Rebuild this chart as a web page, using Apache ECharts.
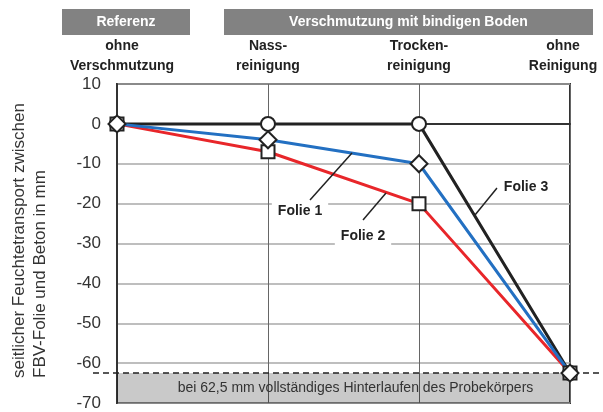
<!DOCTYPE html>
<html>
<head>
<meta charset="utf-8">
<script src="https://cdn.jsdelivr.net/npm/echarts@6/dist/echarts.min.js"></script>
<style>
  html, body { margin: 0; padding: 0; background: #fff; }
  #chart { width: 603px; height: 412px; }
</style>
</head>
<body>
<div id="chart"></div>
<script>
// Daten
const categories = ['ohne\nVerschmutzung', 'Nass-\nreinigung', 'Trocken-\nreinigung', 'ohne\nReinigung']
const folie1 = [0, -4, -10, -62.5]
const folie2 = [0, -7, -20, -62.5]
const folie3 = [0, 0, 0, -62.5]
const yMin = -70
const yMax = 10
const yStep = 10
const grenzWert = -62.5

const narrow = 'Liberation Sans, Arial, sans-serif'
const plain = 'Liberation Sans, Arial, sans-serif'

const chart = echarts.init(document.getElementById('chart'))

const markerStyle = { color: '#fff', borderColor: '#222', borderWidth: 2 }

const option = {
  animation: false,
  grid: {
    left: 117, right: 33, top: 84, bottom: 9,
    outerBoundsMode: 'none', containLabel: false,
    show: true, borderColor: '#333', borderWidth: 2, backgroundColor: '#fff'
  },
  xAxis: {
    type: 'category',
    position: 'top',
    boundaryGap: false,
    data: categories.map((c, i) => {
      if (i === 0) return { value: c, textStyle: { padding: [0, 0, 0, 10] } }
      if (i === categories.length - 1) return { value: c, textStyle: { padding: [0, 14, 0, 0] } }
      return c
    }),
    axisLine: { lineStyle: { color: '#333', width: 2 } },
    axisTick: { show: false },
    axisLabel: {
      interval: 0, hideOverlap: false,
      color: '#222', fontSize: 14, fontWeight: 'bold', fontFamily: narrow,
      lineHeight: 20, margin: 8
    },
    splitLine: { show: true, interval: 0, lineStyle: { color: '#666', width: 1 } }
  },
  yAxis: {
    type: 'value',
    min: yMin, max: yMax, interval: yStep,
    axisLine: { show: true, lineStyle: { color: '#333', width: 2 } },
    axisTick: { show: false },
    axisLabel: { color: '#333', fontSize: 17, fontFamily: plain, margin: 16 },
    splitLine: { lineStyle: { color: '#a8a8a8', width: 1.5 } }
  },
  series: [
    {
      name: 'Folie 3', type: 'line', data: folie3,
      symbol: 'circle', symbolSize: 14,
      lineStyle: { color: '#222', width: 3 },
      itemStyle: markerStyle,
      markArea: {
        silent: true,
        itemStyle: { color: 'rgba(0,0,0,0.21)' },
        label: {
          show: true, position: 'inside', offset: [12, 0],
          color: '#333', fontSize: 14, fontFamily: plain
        },
        data: [[
          { yAxis: grenzWert, name: 'bei 62,5 mm vollständiges Hinterlaufen des Probekörpers' },
          { yAxis: yMin }
        ]]
      }
    },
    {
      name: 'Folie 2', type: 'line', data: folie2,
      symbol: 'rect', symbolSize: 13,
      lineStyle: { color: '#e8262a', width: 3 },
      itemStyle: markerStyle
    },
    {
      name: 'Folie 1', type: 'line', data: folie1,
      symbol: 'diamond', symbolSize: 17,
      lineStyle: { color: '#2370c2', width: 3 },
      itemStyle: markerStyle
    }
  ]
}

chart.setOption(option)

// Linie bei 62,5 mm und Beschriftungen
const yGrenz = chart.convertToPixel({ yAxisIndex: 0 }, grenzWert)
const folieLabel = (text, x, y) => ({
  type: 'text', x: x, y: y, z: 10,
  style: {
    text: text, align: 'center', verticalAlign: 'middle',
    fill: '#222', fontSize: 14, fontWeight: 'bold', fontFamily: narrow,
    backgroundColor: '#fff', padding: [3, 6]
  }
})
const leader = (x1, y1, x2, y2) => ({
  type: 'line', z: 10,
  shape: { x1: x1, y1: y1, x2: x2, y2: y2 },
  style: { stroke: '#222', lineWidth: 1.5 }
})
const header = (text, x, w) => ([
  { type: 'rect', shape: { x: x, y: 9, width: w, height: 26 }, style: { fill: '#828282' } },
  {
    type: 'text', x: x + w / 2, y: 22,
    style: {
      text: text, align: 'center', verticalAlign: 'middle',
      fill: '#fff', fontSize: 14, fontWeight: 'bold', fontFamily: narrow
    }
  }
])

chart.setOption({
  graphic: [
    ...header('Referenz', 62, 128),
    ...header('Verschmutzung mit bindigen Boden', 224, 369),
    {
      type: 'text', x: 30, y: 378, rotation: Math.PI / 2,
      style: {
        text: 'seitlicher Feuchtetransport zwischen\nFBV-Folie und Beton in mm',
        align: 'left', verticalAlign: 'middle',
        fill: '#333', fontSize: 17, fontFamily: plain, lineHeight: 21
      }
    },
    {
      type: 'line', z: 1,
      shape: { x1: 93, y1: yGrenz, x2: 603, y2: yGrenz },
      style: { stroke: '#222', lineWidth: 1.5, lineDash: [6, 4] }
    },
    leader(310, 200, 352, 153),
    folieLabel('Folie 1', 300, 211),
    leader(363, 220, 386, 193),
    folieLabel('Folie 2', 363, 236),
    leader(475, 215, 497, 188),
    folieLabel('Folie 3', 526, 187)
  ]
})
</script>
</body>
</html>
